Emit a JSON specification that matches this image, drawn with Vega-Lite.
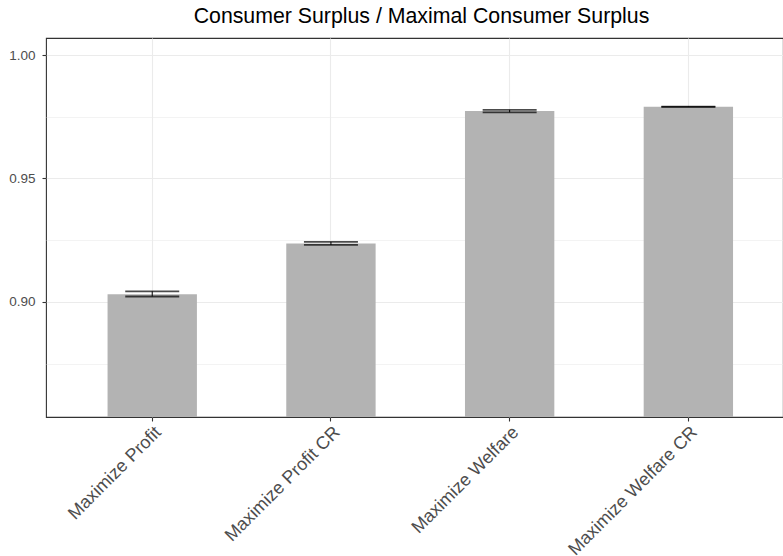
{
  "$schema": "https://vega.github.io/schema/vega-lite/v6.json",
  "width": 737,
  "height": 379,
  "autosize": {"type": "none"},
  "padding": {"left": 46, "top": 38, "right": 0, "bottom": 139},
  "background": "white",
  "config": {
    "font": "Liberation Sans",
    "view": {"stroke": "#333333", "strokeWidth": 1.1}
  },
  "title": {
    "text": "Consumer Surplus / Maximal Consumer Surplus",
    "anchor": "middle",
    "frame": "group",
    "dx": 7,
    "offset": -6,
    "baseline": "alphabetic",
    "font": "Liberation Sans",
    "fontSize": 21.3,
    "fontWeight": "normal",
    "color": "#000000"
  },
  "data": {
    "values": [
      {"strategy": "Maximize Profit", "ratio": 0.9031, "lo": 0.9022, "hi": 0.9043},
      {"strategy": "Maximize Profit CR", "ratio": 0.9237, "lo": 0.9231, "hi": 0.9243},
      {"strategy": "Maximize Welfare", "ratio": 0.9773, "lo": 0.9768, "hi": 0.9778},
      {"strategy": "Maximize Welfare CR", "ratio": 0.9791, "lo": 0.97902, "hi": 0.97914}
    ]
  },
  "encoding": {
    "x": {
      "field": "strategy",
      "type": "nominal",
      "sort": null,
      "title": null,
      "scale": {"paddingInner": 0.5, "paddingOuter": 0.312, "align": 0.552, "round": false},
      "axis": {
        "domain": false,
        "grid": true,
        "gridColor": "#EBEBEB",
        "gridWidth": 1.1,
        "ticks": true,
        "tickSize": 4,
        "tickColor": "#333333",
        "tickWidth": 1.1,
        "labelAngle": -45,
        "labelAlign": "right",
        "labelBaseline": "top",
        "labelPadding": 2,
        "labelFontSize": 18,
        "labelColor": "#4D4D4D",
        "labelFont": "Liberation Sans",
        "labelOverlap": false,
        "labelLimit": 400
      }
    }
  },
  "layer": [
    {
      "mark": {"type": "bar", "color": "#B3B3B3", "clip": true},
      "encoding": {
        "y": {
          "field": "ratio",
          "type": "quantitative",
          "title": null,
          "scale": {"domain": [0.8534, 1.0069], "zero": false, "nice": false},
          "axis": {
            "values": [0.875, 0.9, 0.925, 0.95, 0.975, 1.0],
            "domain": false,
            "grid": true,
            "gridColor": "#EBEBEB",
            "gridWidth": {"condition": {"test": "abs(datum.value * 20 - round(datum.value * 20)) < 0.001", "value": 1.1}, "value": 0.6},
            "tickSize": 4,
            "tickColor": "#333333",
            "tickWidth": 1.1,
            "tickOpacity": {"condition": {"test": "abs(datum.value * 20 - round(datum.value * 20)) < 0.001", "value": 1}, "value": 0},
            "labelExpr": "abs(datum.value * 20 - round(datum.value * 20)) < 0.001 ? format(datum.value, '.2f') : ''",
            "labelFontSize": 13.5,
            "labelColor": "#4D4D4D",
            "labelFont": "Liberation Sans",
            "labelPadding": 7
          }
        },
        "y2": {"datum": 0.8}
      }
    },
    {
      "mark": {"type": "rule", "color": "#000000", "strokeWidth": 1},
      "encoding": {
        "y": {"field": "lo", "type": "quantitative"},
        "y2": {"field": "hi"}
      }
    },
    {
      "mark": {"type": "tick", "color": "#000000", "thickness": 1.8, "size": 54},
      "encoding": {
        "y": {"field": "lo", "type": "quantitative"}
      }
    },
    {
      "mark": {"type": "tick", "color": "#000000", "thickness": 1.8, "size": 54},
      "encoding": {
        "y": {"field": "hi", "type": "quantitative"}
      }
    }
  ]
}
